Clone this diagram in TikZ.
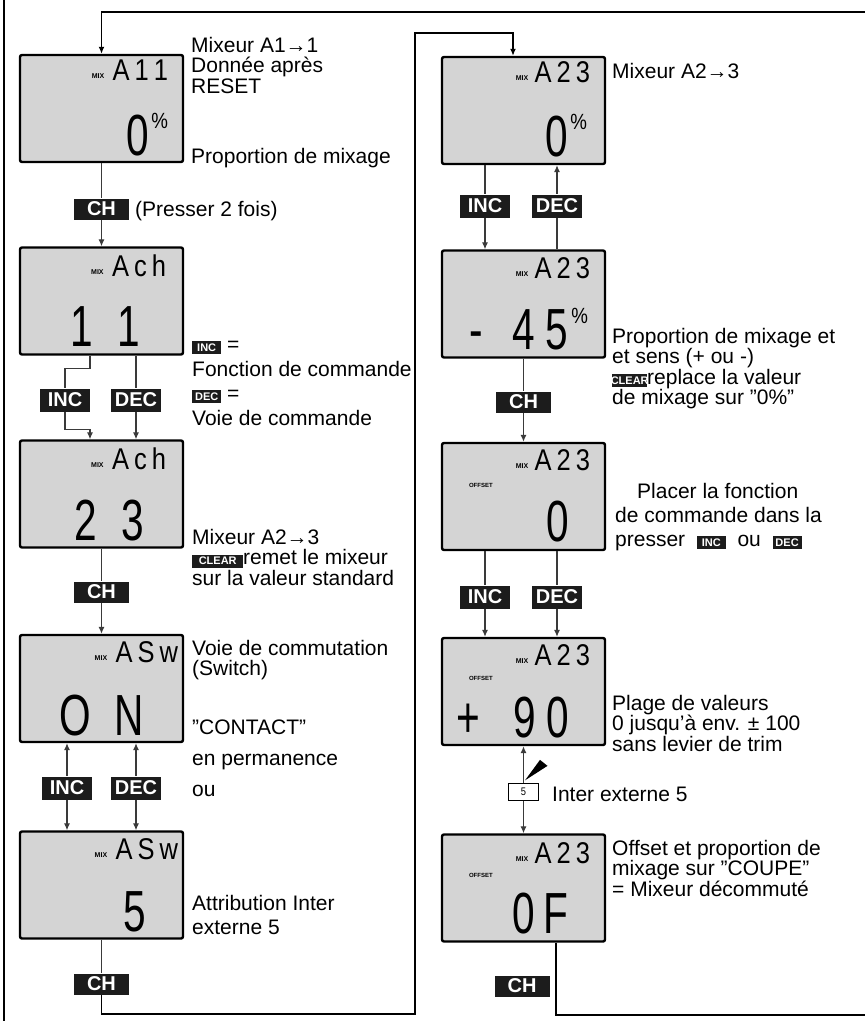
\documentclass[tikz,border=0pt]{standalone}
\usepackage{fontspec}
\setmainfont{Liberation Sans}
\newfontfamily\lcdfont[FakeStretch=0.7]{Liberation Sans}
\newfontfamily\lcdsmall[FakeStretch=0.85]{Liberation Sans}
\usetikzlibrary{arrows.meta,calc}
\definecolor{LcdGrey}{HTML}{D4D4D4}
\definecolor{KeyBlack}{HTML}{1C1C1C}
\definecolor{WireGrey}{HTML}{3A3A3A}
\newcommand\minikey[2][24pt]{{\setlength\fboxsep{2.5pt}\colorbox{KeyBlack}{\makebox[#1]{\color{white}\fontsize{11}{11}\selectfont\bfseries #2}}}}

\begin{document}
\begin{tikzpicture}[x=1pt,y=-1pt,
  lcd/.style={draw=black,line width=2.4pt,fill=LcdGrey,rounded corners=2pt,minimum width=163pt,minimum height=107pt,inner sep=0pt},
  key/.style={fill=KeyBlack,text=white,font=\fontsize{20}{20}\selectfont\bfseries,inner sep=0pt,minimum width=50pt,minimum height=23pt},
  chkey/.style={key,minimum width=55pt,minimum height=21pt},
  swbox/.style={draw=black,line width=1.3pt,fill=white,minimum width=30pt,minimum height=17pt,inner sep=0pt,font=\lcdsmall\fontsize{11}{11}\selectfont},
  lbl/.style={anchor=north west,align=left,inner sep=0pt,font=\fontsize{21}{20.5}\selectfont},
  segtop/.style={inner sep=0pt,anchor=base east,font=\lcdsmall\fontsize{30}{30}\selectfont},
  segbig/.style={inner sep=0pt,anchor=base east,font=\lcdfont\fontsize{58}{58}\selectfont},
  pct/.style={inner sep=0pt,anchor=north west,font=\lcdsmall\fontsize{22}{22}\selectfont},
  mixtag/.style={inner sep=0pt,anchor=base east,font=\fontsize{7}{7}\selectfont\bfseries},
  offtag/.style={inner sep=0pt,anchor=base west,font=\fontsize{6}{6}\selectfont\bfseries},
  conn/.style={draw=WireGrey,line width=1.1pt},
  loopln/.style={draw=black,line width=1.7pt},
  >={Latex[length=7pt,width=6pt]}]
\useasboundingbox (0,0) rectangle (865,1021);
\draw[loopln] (4,0) -- (4,1021);

\node[lcd] (b1) at (101.5,108.5) {};
\node[lcd] (b2) at (101.5,301) {};
\node[lcd] (b3) at (101.5,494) {};
\node[lcd] (b4) at (101.5,688.5) {};
\node[lcd] (b5) at (101.5,885) {};
\node[lcd] (r1) at (523.5,110.5) {};
\node[lcd] (r2) at (523.5,304) {};
\node[lcd] (r3) at (523.5,496.5) {};
\node[lcd] (r4) at (523.5,691.5) {};
\node[lcd] (r5) at (523.5,888) {};

\node[segtop] (b1top) at ($(b1.north east)+(-16,27)$) {A\,1\,1};
\node[mixtag] (b1mix) at ($(b1top.base west)+(-8,-2)$) {MIX};
\node[segbig] (b1val) at ($(b1.south east)+(-35,-8)$) {0};
\node[pct] (b1pct) at ($(b1val.base east)+(2,-42)$) {\%};
\node[segtop] (b2top) at ($(b2.north east)+(-18,30)$) {A\,c\,h};
\node[mixtag] (b2mix) at ($(b2top.base west)+(-8,-2)$) {MIX};
\node[segbig] (b2val) at ($(b2.south east)+(-44,-9)$) {1\hspace{24pt}1};
\node[segtop] (b3top) at ($(b3.north east)+(-18,30)$) {A\,c\,h};
\node[mixtag] (b3mix) at ($(b3top.base west)+(-8,-2)$) {MIX};
\node[segbig] (b3val) at ($(b3.south east)+(-40,-8)$) {2\hspace{24pt}3};
\node[segtop] (b4top) at ($(b4.north east)+(-6,29)$) {A\,S\,w};
\node[mixtag] (b4mix) at ($(b4top.base west)+(-8,-2)$) {MIX};
\node[segbig] (b4val) at ($(b4.south east)+(-40,-8)$) {O\hspace{24pt}N};
\node[segtop] (b5top) at ($(b5.north east)+(-6,29)$) {A\,S\,w};
\node[mixtag] (b5mix) at ($(b5top.base west)+(-8,-2)$) {MIX};
\node[segbig] (b5val) at ($(b5.south east)+(-38,-8)$) {5};

\node[segtop] (r1top) at ($(r1.north east)+(-16,27)$) {A\,2\,3};
\node[mixtag] (r1mix) at ($(r1top.base west)+(-6,-2)$) {MIX};
\node[segbig] (r1val) at ($(r1.south east)+(-38,-9)$) {0};
\node[pct] (r1pct) at ($(r1val.base east)+(2,-42)$) {\%};
\node[segtop] (r2top) at ($(r2.north east)+(-16,29)$) {A\,2\,3};
\node[mixtag] (r2mix) at ($(r2top.base west)+(-6,-2)$) {MIX};
\node[segbig] (r2val) at ($(r2.south east)+(-38,-9)$) {-\hspace{30pt}4\hspace{10pt}5};
\node[pct] (r2pct) at ($(r2val.base east)+(3,-42)$) {\%};
\node[segtop] (r3top) at ($(r3.north east)+(-16,29)$) {A\,2\,3};
\node[mixtag] (r3mix) at ($(r3top.base west)+(-6,-2)$) {MIX};
\node[offtag] (r3off) at ($(r3.north west)+(28,46)$) {OFFSET};
\node[segbig] (r3val) at ($(r3.south east)+(-37,-10)$) {0};
\node[segtop] (r4top) at ($(r4.north east)+(-16,29)$) {A\,2\,3};
\node[mixtag] (r4mix) at ($(r4top.base west)+(-6,-2)$) {MIX};
\node[offtag] (r4off) at ($(r4.north west)+(28,44)$) {OFFSET};
\node[segbig] (r4val) at ($(r4.south east)+(-37,-9)$) {+\hspace{34pt}9\hspace{10pt}0};
\node[segtop] (r5top) at ($(r5.north east)+(-16,30)$) {A\,2\,3};
\node[mixtag] (r5mix) at ($(r5top.base west)+(-6,-2)$) {MIX};
\node[offtag] (r5off) at ($(r5.north west)+(28,44)$) {OFFSET};
\node[segbig] (r5val) at ($(r5.south east)+(-38,-9)$) {0\hspace{8pt}F};

\node[chkey] (ch1) at (101.5,209) {CH};
\node[key] (inc2) at (65,400) {INC};
\node[key] (dec2) at (136,400) {DEC};
\node[chkey] (ch3) at (101.5,592) {CH};
\node[key] (inc4) at (67,788) {INC};
\node[key] (dec4) at (136,788) {DEC};
\node[chkey] (ch5) at (101.5,984) {CH};
\node[key] (rinc1) at (485,206) {INC};
\node[key] (rdec1) at (557,206) {DEC};
\node[chkey] (rch2) at (523.5,402) {CH};
\node[key] (rinc3) at (485,597) {INC};
\node[key] (rdec3) at (557,597) {DEC};
\node[swbox] (sw) at (523.5,792) {5};
\node[chkey] (rch5) at (522,986) {CH};

\coordinate (j2) at (90,0);
\coordinate (lpb) at (415,1014);
\coordinate (lpt) at (415,33);
\coordinate (r1in) at (513,0);
\coordinate (rout) at (556,0);
\coordinate (rpe) at (865,1015);
\coordinate (tpe) at (865,12);

\draw[conn] (b1) -- (ch1);
\draw[conn,->] (ch1) -- (b2);
\draw[conn] (b2.south -| j2) |- ($(inc2.north)+(0,-20)$) -- (inc2.north);
\draw[conn,->] (inc2.south) |- ($(b3.north -| j2)+(0,-10)$) -- (b3.north -| j2);
\draw[conn] (b2.south -| dec2) -- (dec2);
\draw[conn,->] (dec2) -- (b3.north -| dec2);
\draw[conn] (b3) -- (ch3);
\draw[conn,->] (ch3) -- (b4);
\draw[conn,<-] (b4.south -| inc4) -- (inc4);
\draw[conn,->] (inc4) -- (b5.north -| inc4);
\draw[conn,<-] (b4.south -| dec4) -- (dec4);
\draw[conn,->] (dec4) -- (b5.north -| dec4);
\draw[conn] (b5) -- (ch5);
\draw[loopln,->] (ch5) |- (lpb) -- (lpt) -| (r1.north -| r1in);

\draw[conn] (r1.south -| rinc1) -- (rinc1);
\draw[conn,->] (rinc1) -- (r2.north -| rinc1);
\draw[conn,<-] (r1.south -| rdec1) -- (rdec1);
\draw[conn] (rdec1) -- (r2.north -| rdec1);
\draw[conn] (r2) -- (rch2);
\draw[conn,->] (rch2) -- (r3);
\draw[conn] (r3.south -| rinc3) -- (rinc3);
\draw[conn,->] (rinc3) -- (r4.north -| rinc3);
\draw[conn] (r3.south -| rdec3) -- (rdec3);
\draw[conn,->] (rdec3) -- (r4.north -| rdec3);
\draw[conn,<-] (r4.south -| sw) -- (sw);
\draw[conn,->] (sw) -- (r5.north -| sw);
\fill[black] ($(sw.north)+(1.5,-2.5)$) -- ($(sw.north)+(16.5,-23)$) -- ($(sw.north)+(24,-17)$) -- cycle;
\draw[loopln] (r5.south -| rout) |- (rpe);
\draw[loopln,->] (tpe) -| (b1.north);

\node[lbl] (t1) at (191,37) {Mixeur A1→1\\Donnée après\\RESET};
\node[lbl] (t1b) at (191,148) {Proportion de mixage};
\node[lbl] (t1c) at (135,201) {(Presser 2 fois)};
\node[lbl,font=\fontsize{21}{24.5}\selectfont] (t2) at (192,341) {\minikey{INC} =\\Fonction de commande\\\minikey{DEC} =\\Voie de commande};
\node[lbl] (t3) at (192,529) {Mixeur A2→3\\\minikey[46pt]{CLEAR}remet le mixeur\\sur la valeur standard};
\node[lbl] (t4) at (192,640) {Voie de commutation\\(Switch)};
\node[lbl,font=\fontsize{21}{31}\selectfont] (t4b) at (192,720) {"CONTACT"\\en permanence\\ou};
\node[lbl,font=\fontsize{21}{24}\selectfont] (t5) at (192,895) {Attribution Inter\\externe 5};
\node[lbl] (u1) at (612,63) {Mixeur A2→3};
\node[lbl] (u2) at (612,328) {Proportion de mixage et\\et sens (+ ou -)\\\minikey[30pt]{CLEAR}replace la valeur\\de mixage sur "0\%"};
\node[lbl,font=\fontsize{21}{24}\selectfont] (u3) at (615,483) {\hspace*{22pt}Placer la fonction\\de commande dans la\\presser \ \minikey{INC} \ ou \ \minikey{DEC}};
\node[lbl] (u4) at (612,695) {Plage de valeurs\\0 jusqu'à env. ± 100\\sans levier de trim};
\node[lbl] (u4b) at (552,787) {Inter externe 5};
\node[lbl] (u5) at (612,840) {Offset et proportion de\\mixage sur "COUPE"\\= Mixeur décommuté};
\end{tikzpicture}
\end{document}
